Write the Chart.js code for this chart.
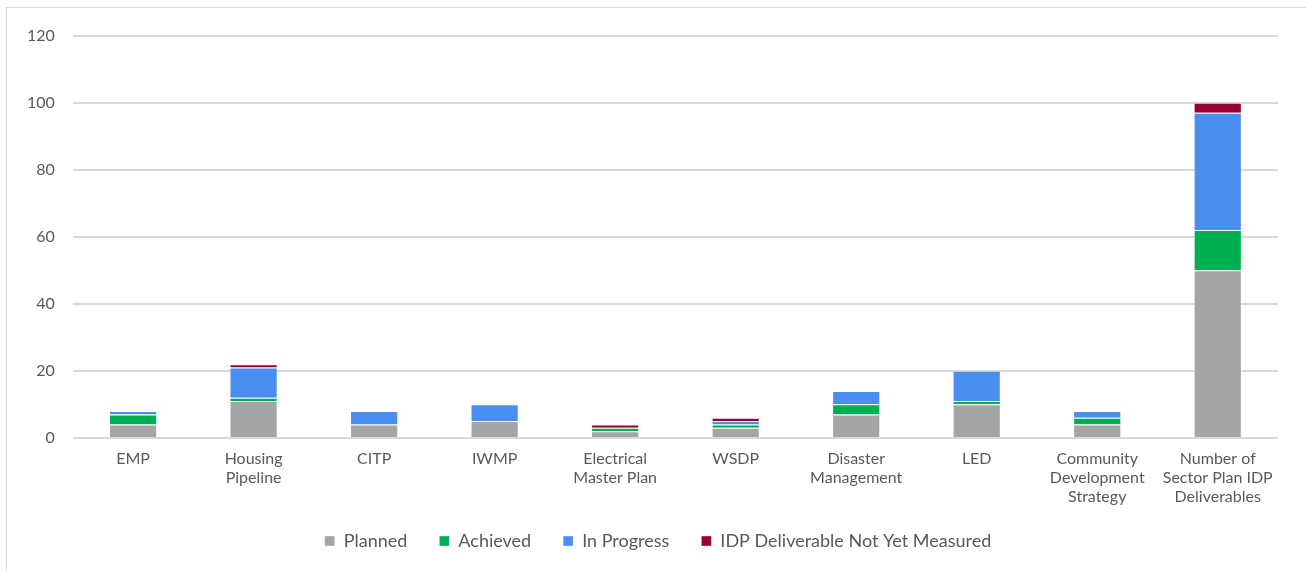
<!DOCTYPE html>
<html>
<head>
<meta charset="utf-8">
<script src="https://cdn.jsdelivr.net/npm/chart.js@4"></script>
<style>
  html, body { margin: 0; padding: 0; background: #fff; }
  #box {
    position: absolute; left: 6px; top: 7px;
    width: 1310px; height: 570px;
    border: 1px solid #d9d9d9; box-sizing: border-box;
  }
  #wrap { position: absolute; left: 0; top: 0; width: 1300px; height: 562px; }
</style>
</head>
<body>
<div id="box"><div id="wrap"><canvas id="sectorChart"></canvas></div></div>
<script>
const categories = [
  'EMP',
  ['Housing', 'Pipeline'],
  'CITP',
  'IWMP',
  ['Electrical', 'Master Plan'],
  'WSDP',
  ['Disaster', 'Management'],
  'LED',
  ['Community', 'Development', 'Strategy'],
  ['Number of', 'Sector Plan IDP', 'Deliverables']
];
const planned     = [4, 11, 4, 5, 2, 3, 7, 10, 4, 50];
const achieved    = [3, 1, 0, 0, 1, 1, 3, 1, 2, 12];
const inProgress  = [1, 9, 4, 5, 0, 1, 4, 9, 2, 35];
const notMeasured = [0, 1, 0, 0, 1, 1, 0, 0, 0, 3];
const yTicks = [0, 20, 40, 60, 80, 100, 120];

document.addEventListener("DOMContentLoaded", function () {
    const font = "'Century Gothic', 'URW Gothic', Lato, 'DejaVu Sans', sans-serif";
    Chart.defaults.font.family = font;
    Chart.defaults.color = '#595959';

    const ctx = document.getElementById('sectorChart').getContext('2d');
    const bar = (label, data, color) => ({
        label: label,
        data: data,
        backgroundColor: color,
        borderColor: 'rgba(255,255,255,0.35)',
        borderWidth: 1,
        barPercentage: 0.4,
        categoryPercentage: 1.0
    });
    new Chart(ctx, {
        type: 'bar',
        data: {
            labels: categories,
            datasets: [
                bar('Planned', planned, '#a5a5a5'),
                bar('Achieved', achieved, '#00b050'),
                bar('In Progress', inProgress, '#4a8ff0'),
                bar('IDP Deliverable Not Yet Measured', notMeasured, '#990033')
            ]
        },
        options: {
            responsive: true,
            maintainAspectRatio: false,
            animation: false,
            layout: { padding: { left: 2, right: 0, top: 23, bottom: 10 } },
            plugins: {
                tooltip: { enabled: false },
                legend: {
                    position: 'bottom',
                    labels: {
                        boxWidth: 10, boxHeight: 10, padding: 23,
                        font: { size: 18 }, color: '#595959',
                        // wider gaps between items, as in the original
                        generateLabels: chart => {
                            const items = Chart.defaults.plugins.legend.labels.generateLabels(chart);
                            return items.map((it, i) => Object.assign(it, {
                                text: i < items.length - 1 ? it.text + '\u2002' : it.text
                            }));
                        }
                    }
                }
            },
            scales: {
                x: {
                    stacked: true,
                    grid: { display: false },
                    border: { display: false },
                    ticks: { font: { size: 16, lineHeight: 1.19 }, color: '#595959', maxRotation: 0, autoSkip: false, padding: 3 }
                },
                y: {
                    stacked: true,
                    min: 0, max: 120,
                    afterBuildTicks: axis => { axis.ticks = yTicks.map(v => ({ value: v })); },
                    grid: { color: '#d9d9d9', lineWidth: 2, drawTicks: false },
                    border: { display: false },
                    ticks: { font: { size: 16 }, color: '#595959', padding: 18 }
                },
                // empty right margin so the legend stays centred on the whole box
                yRight: {
                    position: 'right',
                    grid: { display: false },
                    border: { display: false },
                    ticks: { display: false },
                    afterFit: axis => { axis.width = 29; }
                }
            }
        }
    });
});
</script>
</body>
</html>
